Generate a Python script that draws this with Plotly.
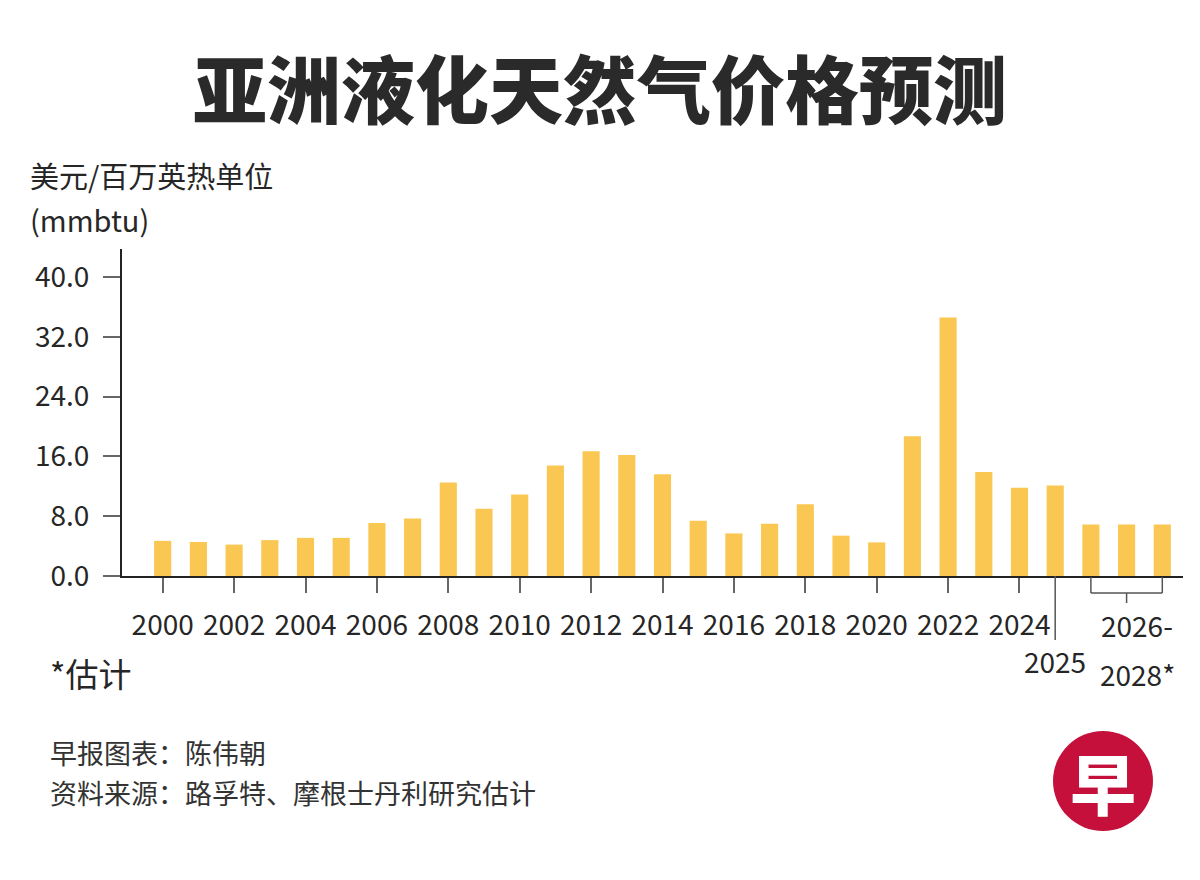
import plotly.graph_objects as go

# data (US$/mmbtu)
years = list(range(2000, 2029))
prices = [4.7, 4.55, 4.2, 4.8, 5.1, 5.1, 7.1, 7.7, 12.5, 9.0,
          10.9, 14.8, 16.7, 16.2, 13.6, 7.4, 5.7, 7.0, 9.6, 5.4,
          4.5, 18.7, 34.6, 13.9, 11.8, 12.1, 6.9, 6.9, 6.9]
tick_years = list(range(2000, 2025, 2))
tick_labels = [str(y) for y in tick_years]
y_ticks = [0, 8, 16, 24, 32, 40]
y_tick_labels = ['%.1f' % v for v in y_ticks]
forecast_years = [2026, 2027, 2028]

# page body has an 8px margin, so the figure starts at (8, 8)
OFF = 8
W, H = 1200 - OFF, 880 - OFF
L, R, T, B = 122 - OFF, 17, 249 - OFF, 304
PW, PH = W - L - R, H - T - B

CJK = 'Noto Sans CJK SC'
NUM = 'Noto Sans CJK SC'
NUM_SIZE = 28
BAR = '#FAC852'
TXT = '#262626'


# screen pixel -> paper coords
def px(x):
    return (x - OFF - L) / PW


def py(y):
    return (H - B - (y - OFF)) / PH


fig = go.Figure(go.Bar(x=years, y=prices, width=0.48,
                       marker=dict(color=BAR, line=dict(width=0)),
                       hoverinfo='x+y'))

fig.update_layout(
    width=W, height=H,
    margin=dict(l=L, r=R, t=T, b=B),
    paper_bgcolor='white', plot_bgcolor='white',
    showlegend=False,
    xaxis=dict(range=[1998.86, 2028.58], showgrid=False, zeroline=False,
               automargin=False,
               showline=True, linecolor='#222', linewidth=2,
               tickmode='array', tickvals=tick_years, ticktext=tick_labels,
               ticks='outside', ticklen=15, tickwidth=1.5, tickcolor='#666',
               ticklabelstandoff=8,
               tickfont=dict(family=NUM, size=NUM_SIZE, color=TXT)),
    yaxis=dict(range=[0, 43.75], showgrid=False, zeroline=False,
               automargin=False,
               showline=True, linecolor='#222', linewidth=2,
               tickmode='array', tickvals=y_ticks, ticktext=y_tick_labels,
               ticks='outside', ticklen=17, tickwidth=1.5, tickcolor='#666',
               ticklabelstandoff=8,
               tickfont=dict(family=NUM, size=NUM_SIZE, color=TXT)),
)

ann = []
# title
ann.append(dict(x=px(600), y=py(85), text='亚洲液化天然气价格预测',
                font=dict(family=CJK, size=74, color='#2a2a2a', weight=900),
                xanchor='center', yanchor='middle'))
# y-axis unit
ann.append(dict(x=px(28), y=py(175), text='美元/百万英热单位',
                font=dict(family=CJK, size=29, color=TXT),
                xanchor='left', yanchor='middle'))
ann.append(dict(x=px(28), y=py(219), text='(mmbtu)',
                font=dict(family=CJK, size=29, color=TXT),
                xanchor='left', yanchor='middle'))
# 2025 and forecast labels
ann.append(dict(x=2025, xref='x', y=py(661), text='2025',
                font=dict(family=NUM, size=NUM_SIZE, color=TXT),
                xanchor='center', yanchor='middle'))
ann.append(dict(x=forecast_years[1] + 0.3, xref='x', y=py(625), text='2026-',
                font=dict(family=NUM, size=NUM_SIZE, color=TXT),
                xanchor='center', yanchor='middle'))
ann.append(dict(x=forecast_years[1] + 0.3, xref='x', y=py(674), text='2028*',
                font=dict(family=NUM, size=NUM_SIZE, color=TXT),
                xanchor='center', yanchor='middle'))
# notes
ann.append(dict(x=px(48), y=py(673), text='*估计',
                font=dict(family=CJK, size=33, color=TXT),
                xanchor='left', yanchor='middle'))
ann.append(dict(x=px(48), y=py(752), text='早报图表：陈伟朝',
                font=dict(family=CJK, size=27, color='#333'),
                xanchor='left', yanchor='middle'))
ann.append(dict(x=px(48), y=py(792), text='资料来源：路孚特、摩根士丹利研究估计',
                font=dict(family=CJK, size=27, color='#333'),
                xanchor='left', yanchor='middle'))
# logo glyph
ann.append(dict(x=px(1103), y=py(781), text='早',
                font=dict(family=CJK, size=66, color='white', weight=900),
                xanchor='center', yanchor='middle'))
for a in ann:
    a.setdefault('xref', 'paper')
    a['yref'] = 'paper'
    a['showarrow'] = False
fig.update_layout(annotations=ann)

shapes = []
# long tick for 2025
shapes.append(dict(type='line', xref='x', yref='paper', x0=2025, x1=2025,
                   y0=0, y1=py(640), line=dict(color='#555', width=1.5)))
# bracket under the forecast bars
f0, f1 = forecast_years[0], forecast_years[-1]
bracket_y = py(593)
shapes.append(dict(type='line', xref='x', yref='paper', x0=f0, x1=f1,
                   y0=bracket_y, y1=bracket_y, line=dict(color='#555', width=1.5)))
for fx in (f0, f1):
    shapes.append(dict(type='line', xref='x', yref='paper', x0=fx, x1=fx,
                       y0=py(577), y1=bracket_y, line=dict(color='#555', width=1.5)))
shapes.append(dict(type='line', xref='x', yref='paper',
                   x0=forecast_years[1], x1=forecast_years[1],
                   y0=bracket_y, y1=py(603), line=dict(color='#555', width=1.5)))
# logo circle
shapes.append(dict(type='circle', xref='paper', yref='paper',
                   x0=px(1053), x1=px(1153), y0=py(831), y1=py(731),
                   fillcolor='#C4103A', line=dict(width=0), layer='below'))
fig.update_layout(shapes=shapes)

fig.write_html('out.html')
